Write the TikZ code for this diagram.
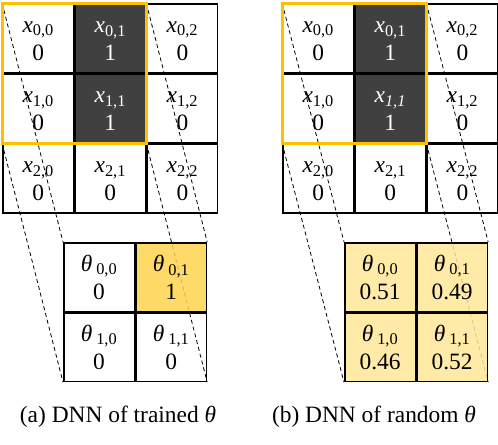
\documentclass[tikz,border=0pt]{standalone}
\usepackage{fontspec}
\setmainfont{Liberation Serif}
\usepackage{tikz}
\usetikzlibrary{positioning,backgrounds}

\definecolor{darkcell}{HTML}{404040}
\definecolor{winorange}{HTML}{FFC000}
\definecolor{hotyellow}{HTML}{FFD34F}
\definecolor{paleyellow}{HTML}{FFE699}

\newcommand{\xs}[2]{\rule{0pt}{16bp}\textit{x}\textsubscript{#1}\\#2}
\newcommand{\ts}[2]{\rule{0pt}{16bp}\textit{θ}\,\textsubscript{#1}\\#2}

\begin{document}
\begin{tikzpicture}[
  x=1bp, y=-1bp,
  node distance=0pt and 0pt,
  cell/.style={draw, line width=1.6bp, minimum width=70.5bp, minimum height=68.5bp,
    inner sep=0pt, align=center, font=\fontsize{23.5}{28}\selectfont},
  dark/.style={cell, fill=darkcell, text=white},
  tcell/.style={cell, fill opacity=0.85, text opacity=1, draw opacity=1},
  window/.style={draw=winorange, line width=3bp},
  proj/.style={line width=0.8bp, dash pattern=on 4bp off 3bp},
  caption/.style={font=\fontsize{23.5}{26}\selectfont}
]
\useasboundingbox (0,0) rectangle (498,445);

% (a) input grid
\node[cell] (x00a) at (38.2,38.3) {\xs{0,0}{0}};
\node[dark, right=of x00a] (x01a) {\xs{0,1}{1}};
\node[cell, right=of x01a] (x02a) {\xs{0,2}{0}};
\node[cell, below=of x00a] (x10a) {\xs{1,0}{0}};
\node[dark, right=of x10a] (x11a) {\xs{1,1}{1}};
\node[cell, right=of x11a] (x12a) {\xs{1,2}{0}};
\node[cell, below=of x10a] (x20a) {\xs{2,0}{0}};
\node[cell, right=of x20a] (x21a) {\xs{2,1}{0}};
\node[cell, right=of x21a] (x22a) {\xs{2,2}{0}};

% (b) input grid
\node[cell] (x00b) at (318.2,38.3) {\xs{0,0}{0}};
\node[dark, right=of x00b] (x01b) {\xs{0,1}{1}};
\node[cell, right=of x01b] (x02b) {\xs{0,2}{0}};
\node[cell, below=of x00b] (x10b) {\xs{1,0}{0}};
\node[dark, right=of x10b] (x11b) {\xs{\textit{1,1}}{1}};
\node[cell, right=of x11b] (x12b) {\xs{1,2}{0}};
\node[cell, below=of x10b] (x20b) {\xs{2,0}{0}};
\node[cell, right=of x20b] (x21b) {\xs{2,1}{0}};
\node[cell, right=of x21b] (x22b) {\xs{2,2}{0}};

% (a) trained theta
\node[tcell, anchor=north west] (t00a) at (63,242) {\ts{0,0}{0}};
\node[tcell, fill=hotyellow, right=of t00a] (t01a) {\ts{0,1}{1}};
\node[tcell, below=of t00a] (t10a) {\ts{1,0}{0}};
\node[tcell, right=of t10a] (t11a) {\ts{1,1}{0}};

% (b) random theta
\node[tcell, fill=paleyellow, anchor=north west] (t00b) at (344,242) {\ts{0,0}{0.51}};
\node[tcell, fill=paleyellow, right=of t00b] (t01b) {\ts{0,1}{0.49}};
\node[tcell, fill=paleyellow, below=of t00b] (t10b) {\ts{1,0}{0.46}};
\node[tcell, fill=paleyellow, right=of t10b] (t11b) {\ts{1,1}{0.52}};

% projection lines, behind the theta fills
\begin{scope}[on background layer]
\draw[proj] (x00a.north west) -- (t00a.north west);
\draw[proj] (x10a.south west) -- (t10a.south west);
\draw[proj] (x01a.north east) -- (t01a.north east);
\draw[proj] (x11a.south east) -- (t11a.south east);
\draw[proj] (x00b.north west) -- (t00b.north west);
\draw[proj] (x10b.south west) -- (t10b.south west);
\draw[proj] (x01b.north east) -- (t01b.north east);
\draw[proj] (x11b.south east) -- (t11b.south east);
\end{scope}

% sliding windows
\draw[window] (x00a.north west) rectangle (x11a.south east);
\draw[window] (x00b.north west) rectangle (x11b.south east);

\node[caption] (capa) at (118,417) {(a) DNN of trained \textit{θ}};
\node[caption] (capb) at (374,417) {(b) DNN of random \textit{θ}};
\end{tikzpicture}
\end{document}
